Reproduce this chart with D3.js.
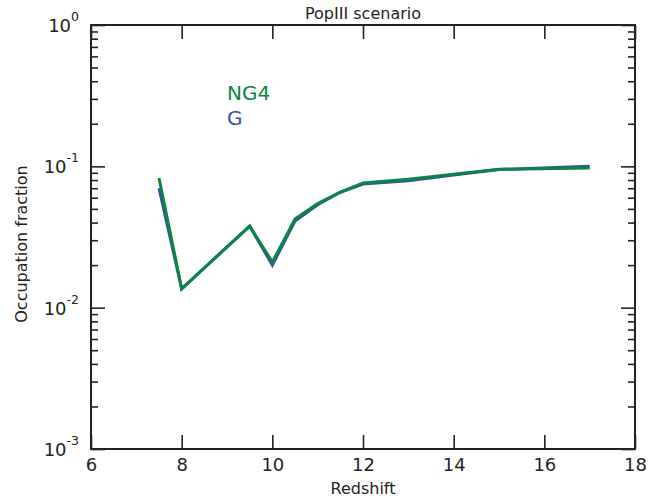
<!DOCTYPE html>
<html>
<head>
<meta charset="utf-8">
<script src="https://cdn.jsdelivr.net/npm/d3@7"></script>
<style>
  body { margin: 0; background: #fff; }
  text { font-family: "DejaVu Sans", sans-serif; fill: #222; }
</style>
</head>
<body>
<svg id="chart" width="668" height="499"></svg>
<script>
// ---- data ----
const redshift = [7.5, 8, 9.5, 10, 10.5, 11, 11.5, 12, 13, 14, 15, 17];
const fracG   = [0.070, 0.0136, 0.0378, 0.0200, 0.0410, 0.0535, 0.0655, 0.0750, 0.0790, 0.0868, 0.0950, 0.1000];
const fracNG4 = [0.0826, 0.0136, 0.0378, 0.0210, 0.0424, 0.0545, 0.0658, 0.0762, 0.0810, 0.0880, 0.0952, 0.0975];
const seriesNames = ["G", "NG4"];
const seriesColors = ["#3a4ea2", "#0a8543"];
const xTicks = [6, 8, 10, 12, 14, 16, 18];
const yMajor = [1e-3, 1e-2, 1e-1, 1];
const yExp = ["-3", "-2", "-1", "0"];
const titleText = "PopIII scenario";
const xLabel = "Redshift";
const yLabel = "Occupation fraction";

// ---- layout ----
const L = 91, R = 635, T = 25, B = 449;
const svg = d3.select("#chart");
const x = d3.scaleLinear().domain([6, 18]).range([L, R]);
const y = d3.scaleLog().domain([1e-3, 1]).range([B, T]);

const yMinor = [];
for (let e = -3; e < 0; e++) for (let m = 2; m <= 9; m++) yMinor.push(m * Math.pow(10, e));

const axisColor = "#222";
function styleAxis(g) {
  g.select(".domain").remove();
  g.selectAll(".tick line").attr("stroke", axisColor).attr("stroke-width", 1.6);
}

// bottom axis
svg.append("g").attr("transform", `translate(0,${B})`)
  .call(d3.axisBottom(x).tickValues(xTicks).tickSize(-14).tickPadding(9).tickFormat(d3.format("d")))
  .call(styleAxis)
  .call(g => g.selectAll("text").attr("font-size", 18).attr("font-family", "DejaVu Sans").attr("fill", "#222"));
// top axis
svg.append("g").attr("transform", `translate(0,${T})`)
  .call(d3.axisTop(x).tickValues(xTicks).tickSize(-14).tickFormat(""))
  .call(styleAxis);
// left axis major/minor
svg.append("g").attr("transform", `translate(${L},0)`)
  .call(d3.axisLeft(y).tickValues(yMajor).tickSize(-14).tickFormat(""))
  .call(styleAxis);
svg.append("g").attr("transform", `translate(${L},0)`)
  .call(d3.axisLeft(y).tickValues(yMinor).tickSize(-7).tickFormat(""))
  .call(styleAxis);
// right axis
svg.append("g").attr("transform", `translate(${R},0)`)
  .call(d3.axisRight(y).tickValues(yMajor).tickSize(-14).tickFormat(""))
  .call(styleAxis);
svg.append("g").attr("transform", `translate(${R},0)`)
  .call(d3.axisRight(y).tickValues(yMinor).tickSize(-7).tickFormat(""))
  .call(styleAxis);

// y tick labels 10^n
yMajor.forEach((v, i) => {
  const t = svg.append("text")
    .attr("x", 79).attr("y", y(v) + 7)
    .attr("text-anchor", "end")
    .attr("font-size", 18);
  t.append("tspan").text("10");
  t.append("tspan").attr("dy", -11).attr("font-size", 12.5).text(yExp[i]);
});

// lines
const line = d3.line().x((d, i) => x(redshift[i])).y(d => y(d));
[fracG, fracNG4].forEach((s, k) => {
  svg.append("path").datum(s)
    .attr("d", line)
    .attr("fill", "none")
    .attr("stroke", seriesColors[k])
    .attr("stroke-width", 3)
    .attr("stroke-linejoin", "miter");
});

// frame
svg.append("rect").attr("x", L).attr("y", T).attr("width", R - L).attr("height", B - T)
  .attr("fill", "none").attr("stroke", axisColor).attr("stroke-width", 2);

// legend texts
svg.append("text").attr("x", 227).attr("y", 100).attr("font-size", 20)
  .style("fill", seriesColors[1]).text(seriesNames[1]);
svg.append("text").attr("x", 227).attr("y", 125).attr("font-size", 20)
  .style("fill", seriesColors[0]).text(seriesNames[0]);

// title and labels
svg.append("text").attr("x", (L + R) / 2).attr("y", 19).attr("text-anchor", "middle")
  .attr("font-size", 16).text(titleText);
svg.append("text").attr("x", (L + R) / 2).attr("y", 494).attr("text-anchor", "middle")
  .attr("font-size", 16).text(xLabel);
svg.append("text").attr("transform", `translate(27,${(T + B) / 2 + 7}) rotate(-90)`)
  .attr("text-anchor", "middle").attr("font-size", 16).text(yLabel);
</script>
</body>
</html>
